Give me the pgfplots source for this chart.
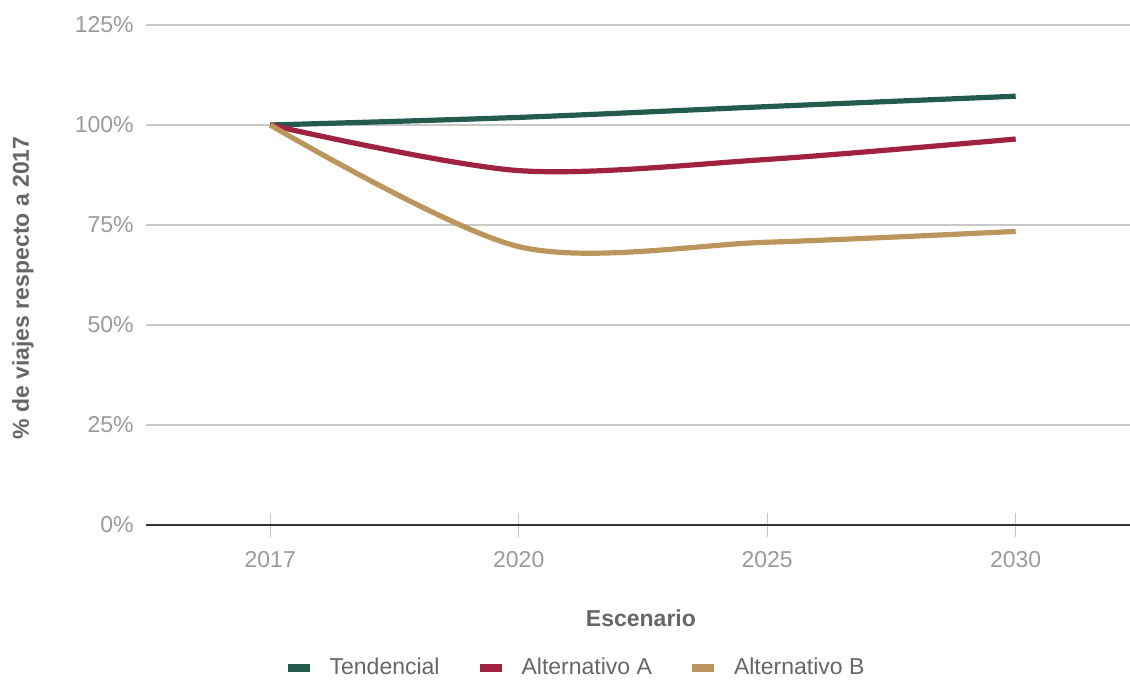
\documentclass[border=0pt]{standalone}
\usepackage{fontspec}
\setmainfont{Liberation Sans}
\usepackage{pgfplots}
\pgfplotsset{compat=1.18}

\definecolor{verde}{HTML}{235B4E}
\definecolor{guinda}{HTML}{9F2241}
\definecolor{dorado}{HTML}{BC955C}
\definecolor{ticktxt}{HTML}{9A9A9A}
\definecolor{titletxt}{HTML}{666666}
\definecolor{gridgray}{HTML}{C8C8C8}
\definecolor{axisdark}{HTML}{333333}

\begin{document}
\begin{tikzpicture}
% fixed frame around the chart
\path[use as bounding box] (-73pt,-78.5pt) rectangle (492pt,262.5pt);
\begin{axis}[
  scale only axis,
  width=492pt, height=250pt,
  xmin=-0.5, xmax=3.46,
  ymin=0, ymax=125,
  axis x line=bottom,
  axis y line=left,
  y axis line style={draw=none},
  x axis line style={draw=axisdark, line width=1.4pt, -},
  xtick={0,1,2,3},
  xticklabels={2017,2020,2025,2030},
  xtick align=center,
  major tick length=12pt,
  xtick style={draw=gridgray, line width=0.6pt},
  ytick={0,25,50,75,100,125},
  yticklabels={0\%,25\%,50\%,75\%,100\%,125\%},
  ytick style={draw=none},
  ymajorgrids,
  grid style={draw=gridgray, line width=0.8pt},
  /pgf/number format/assume math mode=true,
  tick label style={font=\fontsize{11.5}{13}\selectfont, text=ticktxt},
  xticklabel style={anchor=center, yshift=-11.5pt},
  yticklabel style={anchor=east, inner sep=0pt, xshift=0pt},
  ylabel style={at={(axis description cs:-0.125,0.474)}, anchor=center, rotate=0},
  xlabel style={at={(axis description cs:0.503,-0.186)}, anchor=center},
  label style={font=\fontsize{11.5}{13}\selectfont\bfseries, text=titletxt},
  xlabel={Escenario},
  ylabel={\% de viajes respecto a 2017},
  clip=false,
  legend columns=3,
  legend style={
    at={(axis description cs:0.436,-0.286)}, anchor=center,
    draw=none, fill=none,
    font=\fontsize{11.5}{13}\selectfont, text=titletxt,
    /tikz/every odd column/.append style={column sep=7pt},
    /tikz/every even column/.append style={column sep=17pt},
    nodes={inner sep=1pt},
  },
  legend image code/.code={\draw[#1, line width=4pt, line cap=butt] (0pt,0pt) -- (11pt,0pt);},
  every axis plot/.append style={line width=2.6pt, line cap=butt, smooth, no markers},
]
\addplot[verde] coordinates {(0,100) (1,101.9) (2,104.6) (3,107.2)};
\addlegendentry{Tendencial}
\addplot[guinda] coordinates {(0,100) (1,88.6) (2,91.4) (3,96.5)};
\addlegendentry{Alternativo A}
\addplot[dorado] coordinates {(0,100) (1,69.6) (2,70.7) (3,73.4)};
\addlegendentry{Alternativo B}
\end{axis}
\end{tikzpicture}
\end{document}
